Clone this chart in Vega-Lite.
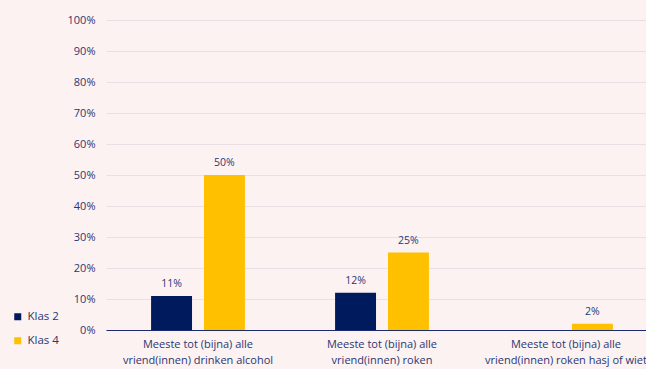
{
  "$schema": "https://vega.github.io/schema/vega-lite/v6.json",
  "autosize": "none",
  "width": 552,
  "height": 310,
  "padding": {"left": 106, "top": 20, "right": 0, "bottom": 39},
  "background": "#fcf2f2",
  "config": {
    "view": {"stroke": null},
    "font": "Open Sans",
    "axis": {"labelColor": "#2b3673", "labelFont": "Open Sans"},
    "legend": {"labelColor": "#2b3673", "labelFont": "Open Sans"}
  },
  "data": {
    "values": [
      {"cat": "a", "klas": "Klas 2", "value": 0.11},
      {"cat": "a", "klas": "Klas 4", "value": 0.50},
      {"cat": "b", "klas": "Klas 2", "value": 0.12},
      {"cat": "b", "klas": "Klas 4", "value": 0.25},
      {"cat": "c", "klas": "Klas 2", "value": null},
      {"cat": "c", "klas": "Klas 4", "value": 0.02}
    ]
  },
  "encoding": {
    "x": {
      "field": "cat",
      "type": "nominal",
      "sort": ["a", "b", "c"],
      "scale": {"paddingInner": 0.49, "paddingOuter": 0.245},
      "axis": {
        "title": null,
        "labelAngle": 0,
        "ticks": false,
        "domainColor": "#1a2a6c",
        "domainWidth": 1,
        "labelFontSize": 11,
        "labelPadding": 8,
        "labelLineHeight": 16,
        "labelExpr": "datum.value == 'a' ? ['Meeste tot (bijna) alle', 'vriend(innen) drinken alcohol'] : datum.value == 'b' ? ['Meeste tot (bijna) alle', 'vriend(innen) roken'] : ['Meeste tot (bijna) alle', 'vriend(innen) roken hasj of wiet']"
      }
    },
    "xOffset": {
      "field": "klas",
      "type": "nominal",
      "scale": {"paddingInner": 0.226, "paddingOuter": 0}
    },
    "y": {
      "field": "value",
      "type": "quantitative",
      "scale": {"domain": [0, 1], "nice": false},
      "axis": {
        "title": null,
        "format": ".0%",
        "values": [0, 0.1, 0.2, 0.3, 0.4, 0.5, 0.6, 0.7, 0.8, 0.9, 1],
        "domain": false,
        "ticks": false,
        "labelPadding": 11,
        "labelFontSize": 11,
        "gridColor": "#eadfe4",
        "gridWidth": 1
      }
    }
  },
  "layer": [
    {
      "mark": {"type": "bar"},
      "encoding": {
        "color": {
          "field": "klas",
          "type": "nominal",
          "scale": {"domain": ["Klas 2", "Klas 4"], "range": ["#001a5e", "#ffc000"]},
          "legend": {
            "title": null,
            "orient": "none",
            "legendX": -94,
            "legendY": 291,
            "symbolType": "square",
            "symbolSize": 49,
            "symbolStrokeWidth": 0,
            "labelFontSize": 11.5,
            "labelOffset": 4,
            "rowPadding": 11
          }
        }
      }
    },
    {
      "mark": {"type": "text", "dy": -12, "fontSize": 10.5, "color": "#2b3673"},
      "encoding": {
        "text": {"field": "value", "type": "quantitative", "format": ".0%"}
      }
    }
  ]
}
